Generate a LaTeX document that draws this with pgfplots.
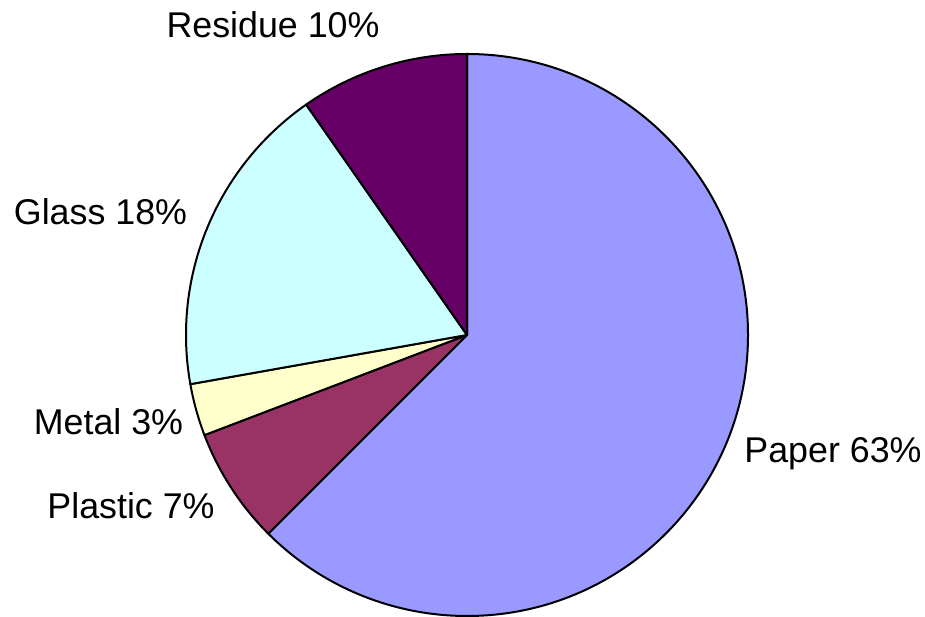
\documentclass[border=0pt]{standalone}
\usepackage{pgfplots}
\usepackage{pgfplotstable}
\pgfplotsset{compat=1.18}
\usepackage{fontspec}
\setmainfont{Liberation Sans}
\definecolor{cPaper}{HTML}{9999FF}
\definecolor{cPlastic}{HTML}{993366}
\definecolor{cMetal}{HTML}{FFFFCC}
\definecolor{cGlass}{HTML}{CCFFFF}
\definecolor{cResidue}{HTML}{660066}
\pgfplotstableread{
name value
Paper 62.5
Plastic 6.7
Metal 3.0
Glass 18.1
Residue 9.7
}\piedata
\begin{document}
\begin{tikzpicture}
\def\aO{90}
\pgfplotstablegetelem{0}{value}\of\piedata\pgfmathsetmacro\aA{\aO-3.6*\pgfplotsretval}
\pgfplotstablegetelem{1}{value}\of\piedata\pgfmathsetmacro\aB{\aA-3.6*\pgfplotsretval}
\pgfplotstablegetelem{2}{value}\of\piedata\pgfmathsetmacro\aC{\aB-3.6*\pgfplotsretval}
\pgfplotstablegetelem{3}{value}\of\piedata\pgfmathsetmacro\aD{\aC-3.6*\pgfplotsretval}
\pgfplotstablegetelem{4}{value}\of\piedata\pgfmathsetmacro\aE{\aD-3.6*\pgfplotsretval}
\begin{axis}[
  x=1pt, y=1pt, xmin=0, xmax=925, ymin=0, ymax=616,
  hide axis, clip=false,
]
\path (axis cs:0,0) rectangle (axis cs:925,616);
\def\R{281pt}
\filldraw[fill=cPaper, line width=2pt, line join=round]
  (axis cs:467,281) -- ++(\aO:\R) arc[start angle=\aO, end angle=\aA, radius=\R] -- cycle;
\filldraw[fill=cPlastic, line width=2pt, line join=round]
  (axis cs:467,281) -- ++(\aA:\R) arc[start angle=\aA, end angle=\aB, radius=\R] -- cycle;
\filldraw[fill=cMetal, line width=2pt, line join=round]
  (axis cs:467,281) -- ++(\aB:\R) arc[start angle=\aB, end angle=\aC, radius=\R] -- cycle;
\filldraw[fill=cGlass, line width=2pt, line join=round]
  (axis cs:467,281) -- ++(\aC:\R) arc[start angle=\aC, end angle=\aD, radius=\R] -- cycle;
\filldraw[fill=cResidue, line width=2pt, line join=round]
  (axis cs:467,281) -- ++(\aD:\R) arc[start angle=\aD, end angle=\aE, radius=\R] -- cycle;
\begin{scope}[every node/.style={inner sep=0pt, anchor=base, font=\fontsize{35.8}{40}\selectfont}]
\node at (axis cs:273,578.3) {Residue 10\%};
\node at (axis cs:100.5,391) {Glass 18\%};
\node at (axis cs:833,153.7) {Paper 63\%};
\node at (axis cs:108.5,181) {Metal 3\%};
\node at (axis cs:131,97.7) {Plastic 7\%};
\end{scope}
\end{axis}
\end{tikzpicture}
\end{document}
